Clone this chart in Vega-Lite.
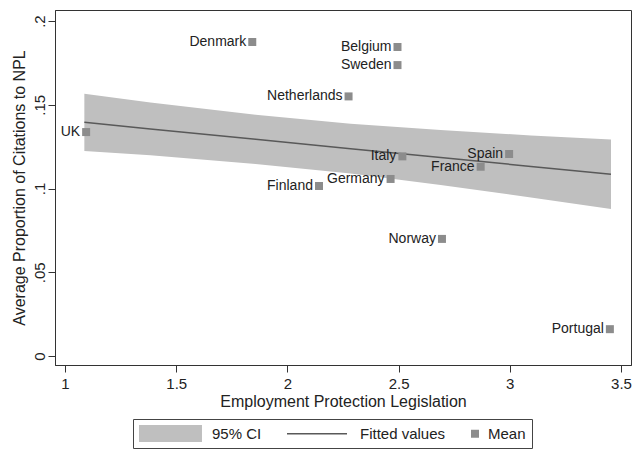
{
  "$schema": "https://vega.github.io/schema/vega-lite/v6.json",
  "width": 576,
  "height": 355,
  "autosize": {"type": "none"},
  "padding": {"left": 55, "top": 10, "right": 4, "bottom": 85},
  "background": "white",
  "config": {
    "font": "Liberation Sans",
    "view": {"stroke": "#333333", "strokeWidth": 1},
    "axis": {"grid": false, "domainColor": "#333333", "tickColor": "#333333", "tickSize": 7, "labelColor": "#222222", "titleColor": "#222222", "labelFont": "Liberation Sans", "titleFont": "Liberation Sans", "titleFontWeight": "normal", "labelFontSize": 15, "titleFontSize": 16}
  },
  "datasets": {
    "band": [
      {"x": 1.087, "lo": 0.1224, "hi": 0.1566, "fit": 0.1395},
      {"x": 1.384, "lo": 0.1198, "hi": 0.1514, "fit": 0.1356},
      {"x": 1.857, "lo": 0.1147, "hi": 0.1441, "fit": 0.1294},
      {"x": 2.284, "lo": 0.1089, "hi": 0.1387, "fit": 0.1238},
      {"x": 2.689, "lo": 0.1021, "hi": 0.1349, "fit": 0.1185},
      {"x": 3.095, "lo": 0.0947, "hi": 0.1317, "fit": 0.1132},
      {"x": 3.455, "lo": 0.0878, "hi": 0.1292, "fit": 0.1085}
    ],
    "pts": [
      {"country": "UK", "epl": 1.095, "npl": 0.1337},
      {"country": "Denmark", "epl": 1.842, "npl": 0.1875},
      {"country": "Belgium", "epl": 2.495, "npl": 0.1845},
      {"country": "Sweden", "epl": 2.495, "npl": 0.1737},
      {"country": "Netherlands", "epl": 2.275, "npl": 0.155},
      {"country": "Italy", "epl": 2.517, "npl": 0.1192},
      {"country": "Spain", "epl": 2.997, "npl": 0.1206},
      {"country": "France", "epl": 2.869, "npl": 0.113},
      {"country": "Germany", "epl": 2.464, "npl": 0.1057},
      {"country": "Finland", "epl": 2.142, "npl": 0.1015},
      {"country": "Norway", "epl": 2.695, "npl": 0.0699},
      {"country": "Portugal", "epl": 3.45, "npl": 0.016}
    ]
  },
  "layer": [
    {
      "data": {"name": "band"},
      "mark": {"type": "area", "opacity": 1},
      "encoding": {
        "x": {"field": "x", "type": "quantitative", "scale": {"domain": [0.955, 3.545], "nice": false, "zero": false},
              "axis": {"title": "Employment Protection Legislation", "values": [1, 1.5, 2, 2.5, 3, 3.5], "format": "~g", "labelPadding": 4, "titlePadding": 2}},
        "y": {"field": "lo", "type": "quantitative", "scale": {"domain": [-0.0054, 0.2066], "nice": false, "zero": false},
              "axis": {"title": "Average Proportion of Citations to NPL", "values": [0, 0.05, 0.1, 0.15, 0.2],
                       "labelExpr": "datum.value === 0 ? '0' : replace(format(datum.value, '.2~f'), '0.', '.')",
                       "labelAngle": 270, "labelAlign": "center", "labelBaseline": "middle", "labelPadding": 9, "titlePadding": 5}},
        "y2": {"field": "hi"},
        "color": {
          "datum": "95% CI",
          "type": "nominal",
          "scale": {"domain": ["95% CI", "Fitted values", "Mean"], "range": ["#bfbfbf", "#595959", "#8c8c8c"]},
          "legend": {
            "orient": "none", "legendX": 78, "legendY": 409, "direction": "horizontal", "columns": 3,
            "title": null, "padding": 6, "strokeColor": "#444444", "fillColor": "white",
            "columnPadding": 25, "symbolSize": 289, "labelFontSize": 15,
            "labelFont": "Liberation Sans", "labelColor": "#222222", "labelLimit": 300,
            "symbolStrokeWidth": 0,
            "symbolType": {"expr": "datum.value === '95% CI' ? 'M-1,-1H6.41V1H-1Z' : datum.value === 'Fitted values' ? 'M-1,-0.09H6.06V0.09H-1Z' : 'M-1,-0.47H-0.06V0.47H-1Z'"},
            "labelOffset": {"expr": "datum.value === 'Mean' ? 0 : 56"}
          }
        }
      }
    },
    {
      "data": {"name": "band"},
      "mark": {"type": "line", "strokeWidth": 1.5, "color": "#595959"},
      "encoding": {
        "x": {"field": "x", "type": "quantitative"},
        "y": {"field": "fit", "type": "quantitative"}
      }
    },
    {
      "data": {"name": "pts"},
      "mark": {"type": "square", "size": 64, "opacity": 1, "filled": true, "color": "#8c8c8c"},
      "encoding": {
        "x": {"field": "epl", "type": "quantitative"},
        "y": {"field": "npl", "type": "quantitative"}
      }
    },
    {
      "data": {"name": "pts"},
      "mark": {"type": "text", "align": "right", "baseline": "middle", "dx": -6, "fontSize": 14, "font": "Liberation Sans", "color": "#222222"},
      "encoding": {
        "x": {"field": "epl", "type": "quantitative"},
        "y": {"field": "npl", "type": "quantitative"},
        "text": {"field": "country"}
      }
    }
  ]
}
